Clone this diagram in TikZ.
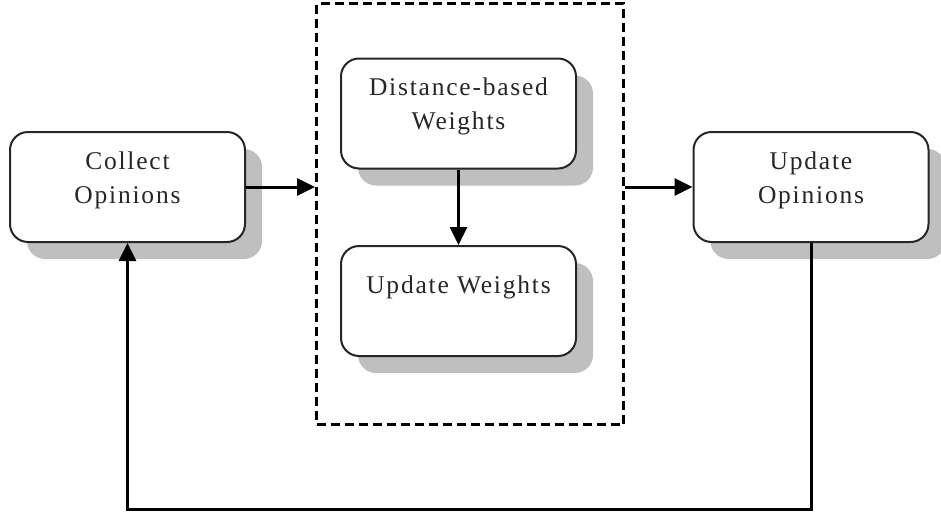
\documentclass[tikz,border=0pt]{standalone}
\usepackage{fontspec}
\setmainfont{Liberation Serif}[LetterSpace=7]
\usetikzlibrary{arrows.meta,shadows}
\begin{document}
\begin{tikzpicture}[x=1pt,y=-1pt,
  box/.style={draw=black!85, line width=2pt, rounded corners=18pt, fill=white,
    minimum width=235pt, minimum height=110pt, inner sep=0pt,
    drop shadow={shadow xshift=17pt, shadow yshift=-17pt, fill=black!25, opacity=1}},
  txt/.style={font=\fontsize{25.5}{34}\selectfont, align=center, text=black!85, inner sep=0pt},
  link/.style={line width=3pt, -{Triangle[length=18pt,width=17pt]}},
  group/.style={draw, line width=3pt, dash pattern=on 9pt off 5pt,
    minimum width=307pt, minimum height=421pt, inner sep=0pt}]
\useasboundingbox (0,0) rectangle (941,517);
% dashed group around the weight steps
\node[group] (grp) at (470,214) {};
% process boxes
\node[box] (co) at (127.5,187) {};
\node[box] (dw) at (458.5,113.5) {};
\node[box] (uw) at (458.5,301) {};
\node[box] (uo) at (811,187) {};
% box captions, set near the top of each box (base = last line)
\node[txt, anchor=base] (cot) at ([yshift=-72pt]co.north) {Collect\\Opinions};
\node[txt, anchor=base] (dwt) at ([yshift=-72pt]dw.north) {Distance-based\\Weights};
\node[txt, anchor=base] (uwt) at ([yshift=-48pt]uw.north) {Update Weights};
\node[txt, anchor=base] (uot) at ([yshift=-72pt]uo.north) {Update\\Opinions};
% connectors
\coordinate (loop) at (0,509);
\draw[link] (co.east) -- (co.east -| grp.west);
\draw[link] (grp.east |- uo.west) -- (uo.west);
\draw[link] (dw.south) -- (uw.north);
\draw[link] (uo.south) -- (uo.south |- loop) -| (co.south);
\end{tikzpicture}
\end{document}
